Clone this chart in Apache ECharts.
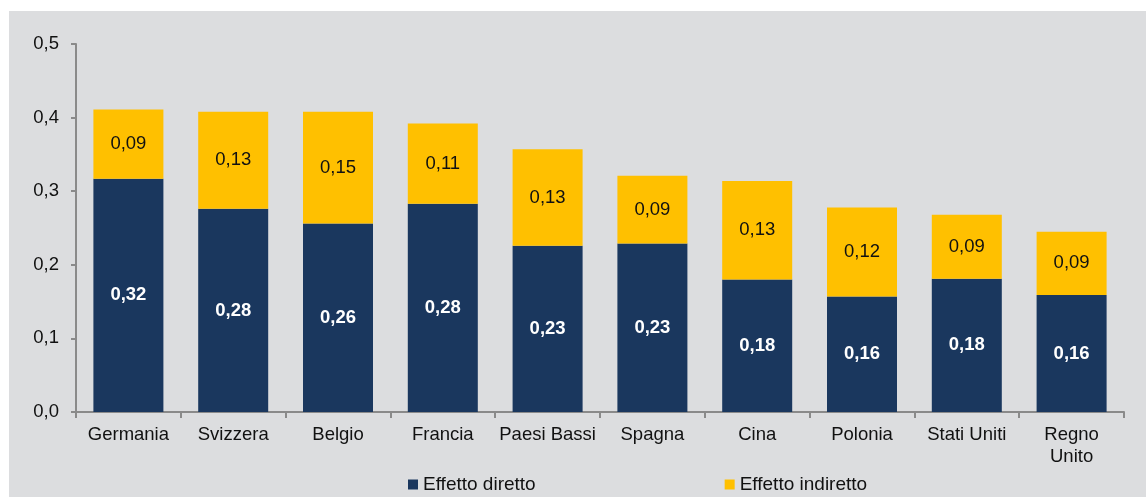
<!DOCTYPE html>
<html>
<head>
<meta charset="utf-8">
<script src="https://cdn.jsdelivr.net/npm/echarts@6/dist/echarts.min.js"></script>
<style>
    body { margin: 0; background: #ffffff; }
    #wrap { position: relative; width: 1146px; height: 497px; }
    #chart { position: absolute; left: 9px; top: 11px; width: 1137px; height: 486px; background: #dcdddf; }
</style>
</head>
<body>
<div id="wrap"><div id="chart"></div></div>
<script>
// countries on the x axis
var paesi = ['Germania', 'Svizzera', 'Belgio', 'Francia', 'Paesi Bassi', 'Spagna', 'Cina', 'Polonia', 'Stati Uniti', 'Regno\nUnito'];
// values
var diretto = [0.317, 0.276, 0.256, 0.283, 0.226, 0.229, 0.180, 0.157, 0.181, 0.159];
var indiretto = [0.094, 0.132, 0.152, 0.109, 0.131, 0.092, 0.134, 0.121, 0.087, 0.086];
var yTicks = [0, 0.1, 0.2, 0.3, 0.4, 0.5];

var font = 'Liberation Sans, Arial, sans-serif';

function virgola(v, d) {
    return v.toFixed(d).replace('.', ',');
}

var chart = echarts.init(document.getElementById('chart'));
var opt = {
    animation: false,
    textStyle: { fontFamily: font },
    grid: { left: 67, right: 22, top: 33, bottom: 85 },
    legend: {
        left: 394,
        top: 459,
        itemWidth: 10,
        itemHeight: 10,
        itemGap: 189,
        icon: 'rect',
        textStyle: { fontSize: 19, color: '#111', fontFamily: font },
        data: ['Effetto diretto', 'Effetto indiretto']
    },
    xAxis: {
        type: 'category',
        data: paesi,
        axisLine: { lineStyle: { color: '#8a8a8a', width: 2 } },
        axisTick: { show: true, length: 6, lineStyle: { color: '#8a8a8a', width: 2 } },
        axisLabel: { interval: 0, margin: 12, fontSize: 18.5, lineHeight: 22, color: '#111', fontFamily: font }
    },
    yAxis: {
        type: 'value',
        min: yTicks[0],
        max: yTicks[yTicks.length - 1],
        interval: 0.1,
        splitLine: { show: false },
        axisLine: { show: true, lineStyle: { color: '#8a8a8a', width: 2 } },
        axisTick: { show: true, length: 5, lineStyle: { color: '#8a8a8a', width: 2 } },
        axisLabel: {
            margin: 17, fontSize: 18.5, color: '#111', fontFamily: font,
            formatter: function (v) { return virgola(v, 1); }
        }
    },
    series: [
        {
            name: 'Effetto diretto',
            type: 'bar',
            stack: 'tot',
            barWidth: 70,
            data: diretto,
            itemStyle: { color: '#1a375e' },
            label: {
                show: true, position: 'inside', color: '#ffffff', fontWeight: 'bold', fontSize: 18.5, fontFamily: font,
                formatter: function (p) { return virgola(p.value, 2); }
            }
        },
        {
            name: 'Effetto indiretto',
            type: 'bar',
            stack: 'tot',
            barWidth: 70,
            data: indiretto,
            itemStyle: { color: '#ffc000' },
            label: {
                show: true, position: 'inside', color: '#111', fontSize: 18.5, fontFamily: font,
                formatter: function (p) { return virgola(p.value, 2); }
            }
        }
    ]
};
chart.setOption(opt);
</script>
</body>
</html>
